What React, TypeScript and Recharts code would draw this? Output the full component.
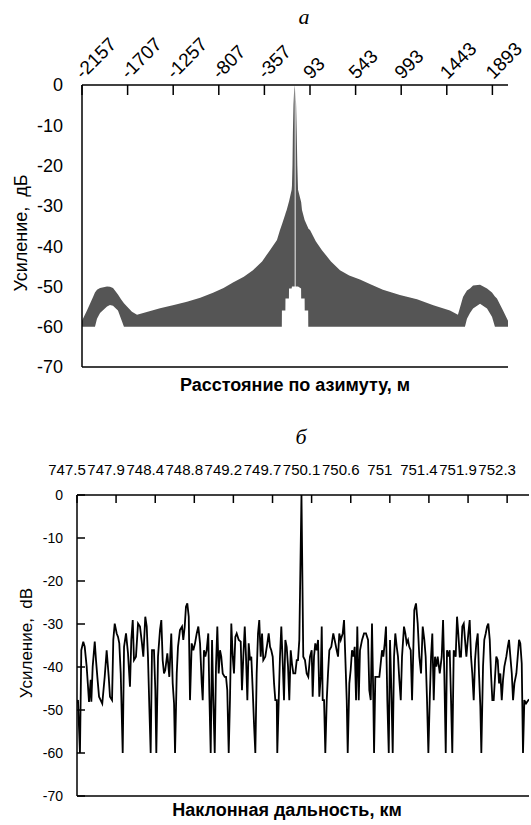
import React from 'react'
import { ComposedChart, Area, Line, XAxis, YAxis, ReferenceLine } from 'recharts'

const SANS = '"Liberation Sans", Arial, sans-serif'
const SERIF = '"Liberation Serif", "Times New Roman", serif'

// panel а: azimuth cut, [distance m, lower edge dB, upper edge dB]
const azimuthLeft: [number, number, number][] = [
  [-2157, -60, -58.5], [-2108, -60, -56], [-2048, -60, -52.6], [-2029, -60, -51.5], [-2009, -58, -50.8],
  [-1979, -56.6, -50.4], [-1910, -55, -50], [-1881, -54.6, -50.1], [-1851, -54.8, -50.4], [-1802, -56, -52],
  [-1772, -58, -53.2], [-1743, -60, -54.2], [-1713, -60, -55], [-1664, -60, -56.3], [-1614, -60, -57],
  [-1500, -60, -56.2], [-1387, -60, -55.4], [-1250, -60, -54.6], [-1121, -60, -53.8], [-990, -60, -52.8],
  [-864, -60, -51.6], [-760, -60, -50.4], [-667, -60, -49], [-560, -60, -47.6], [-470, -60, -46],
  [-380, -60, -43.8], [-302, -60, -41], [-233, -60, -38.5], [-203, -60, -36], [-185, -60, -34.7],
  [-184, -56, -34.6], [-150, -56, -32], [-149, -53, -31.9], [-137, -53, -31], [-115, -53, -29],
  [-114, -50.5, -28.9], [-88, -50.5, -26], [-85, -50, -25], [-80, -50, -20], [-76, -50, -12], [-70, -50, -5],
  [-63, -50, -1], [-58, -50, 0],
]
const azimuthRight: [number, number, number][] = [
  [-49, -50, -1], [-44, -50, -5], [-38, -50, -12], [-32, -50, -20], [-25, -50, -26], [5, -50.5, -29],
  [6, -53, -29.1], [14, -53, -31], [40, -53, -33.5], [41, -56, -33.6], [75, -56, -35.5], [76, -60, -35.6],
  [93, -60, -36], [150, -60, -38.8], [211, -60, -41], [300, -60, -43.8], [389, -60, -46], [480, -60, -47.3],
  [586, -60, -48.3], [700, -60, -49.6], [813, -60, -50.8], [980, -60, -52.1], [1149, -60, -53.2],
  [1310, -60, -54.7], [1474, -60, -56], [1553, -60, -57], [1603, -60, -52.6], [1622, -60, -51.8],
  [1642, -58, -51], [1672, -56.6, -50.5], [1702, -55.5, -49.8], [1771, -54.3, -49.6], [1840, -55.5, -50.5],
  [1889, -57.5, -51.5], [1918, -60, -52.5], [1938, -60, -53], [1998, -60, -56], [2047, -60, -58.5],
]
const azimuthTicks = [-2157, -1707, -1257, -807, -357, 93, 543, 993, 1443, 1893]

const gainTicks = [0, -10, -20, -30, -40, -50, -60, -70]

// panel б: slant range cut, [range km, gain dB]
const rangeProfile: [number, number][] = [
  [747.5, -48.5], [747.511, -47.7], [747.533, -60], [747.548, -36.1], [747.57, -34.1], [747.586, -35.3],
  [747.608, -39.9], [747.623, -44.6], [747.634, -48.1], [747.653, -43], [747.66, -48.1], [747.675, -39.9],
  [747.698, -34.1], [747.712, -38.4], [747.727, -42.3], [747.746, -46.9], [747.782, -48.5], [747.809, -42.3],
  [747.831, -36.1], [747.854, -42.3], [747.868, -46.9], [747.891, -47.7], [747.905, -33.7], [747.921, -29.9],
  [747.943, -32.2], [747.958, -33], [747.972, -34.5], [747.988, -41.5], [748.01, -60], [748.025, -35.3],
  [748.047, -32.2], [748.069, -36.8], [748.091, -44.6], [748.106, -33.7], [748.122, -29.1], [748.136, -38.4],
  [748.158, -37.6], [748.181, -29.9], [748.203, -30.6], [748.225, -34.5], [748.24, -37.6], [748.262, -28.3],
  [748.278, -30.6], [748.292, -37.6], [748.307, -49.2], [748.322, -60], [748.337, -36.1], [748.359, -36.1],
  [748.374, -45.4], [748.385, -60], [748.404, -37.6], [748.426, -31.4], [748.441, -29.1], [748.456, -38.4],
  [748.471, -41.5], [748.485, -40.7], [748.508, -36.8], [748.53, -42.3], [748.552, -32.2], [748.568, -43.8],
  [748.583, -48.5], [748.594, -60], [748.613, -41.5], [748.627, -35.3], [748.649, -31.4], [748.672, -30.6],
  [748.686, -33.7], [748.702, -30.6], [748.716, -26], [748.731, -25.2], [748.747, -28.3], [748.761, -47.7],
  [748.78, -34.5], [748.798, -36.1], [748.817, -34.5], [748.836, -32.2], [748.854, -30.6], [748.873, -34.5],
  [748.892, -43.8], [748.903, -47.7], [748.917, -36.1], [748.932, -37.6], [748.947, -36.1], [748.965, -32.2],
  [748.976, -45.4], [748.992, -60], [749.007, -33.7], [749.021, -47.7], [749.037, -60], [749.051, -39.9],
  [749.066, -30.6], [749.081, -41.5], [749.096, -36.1], [749.11, -37.6], [749.126, -41.5], [749.148, -42.3],
  [749.163, -42.3], [749.177, -45.4], [749.193, -60], [749.207, -47.7], [749.222, -29.9], [749.238, -37.6],
  [749.252, -41.5], [749.267, -33], [749.282, -32.2], [749.305, -33.7], [749.327, -34.1], [749.341, -45.4],
  [749.356, -37.6], [749.372, -30.6], [749.386, -37.6], [749.401, -47.7], [749.416, -34.5], [749.431, -38.4],
  [749.445, -37.6], [749.461, -45.4], [749.475, -53.1], [749.49, -60], [749.505, -41.5], [749.52, -32.2],
  [749.534, -29.1], [749.55, -37.6], [749.565, -32.2], [749.579, -38.4], [749.601, -37.6], [749.624, -34.5],
  [749.639, -32.2], [749.654, -35.3], [749.668, -36.1], [749.684, -37.6], [749.699, -43.8], [749.713, -47.7],
  [749.729, -47.7], [749.735, -60], [749.751, -47.7], [749.765, -37.6], [749.78, -30.6], [749.796, -39.2],
  [749.81, -47.7], [749.825, -33.7], [749.84, -35.3], [749.855, -39.9], [749.869, -47.7], [749.885, -36.1],
  [749.899, -39.2], [749.914, -41.5], [749.936, -41.5], [749.952, -38.4], [749.966, -38.4], [749.981, -33.7],
  [750.005, 0], [750.025, -37.6], [750.044, -38.4], [750.063, -41.5], [750.081, -42.3], [750.1, -37.6],
  [750.119, -36.1], [750.13, -46.9], [750.145, -37.6], [750.159, -34.5], [750.175, -36.1], [750.19, -33.7],
  [750.204, -46.9], [750.22, -42.3], [750.231, -30.6], [750.242, -47.7], [750.257, -47.7], [750.271, -60],
  [750.287, -47.7], [750.301, -41.5], [750.316, -36.1], [750.338, -35.3], [750.36, -32.2], [750.383, -34.5],
  [750.398, -36.1], [750.413, -37.6], [750.427, -32.2], [750.443, -33.7], [750.465, -32.2], [750.48, -29.1],
  [750.494, -37.6], [750.51, -47.7], [750.521, -60], [750.539, -43.8], [750.554, -40.7], [750.569, -36.1],
  [750.584, -37.6], [750.599, -35.3], [750.614, -47.7], [750.628, -30.6], [750.644, -47.7], [750.658, -36.1],
  [750.681, -33.7], [750.703, -32.2], [750.725, -32.2], [750.748, -33.7], [750.762, -45.4], [750.778, -47.7],
  [750.792, -29.9], [750.807, -47.7], [750.815, -60], [750.829, -42.3], [750.851, -42.3], [750.874, -42.3],
  [750.889, -39.2], [750.904, -36.1], [750.918, -37.6], [750.934, -34.5], [750.948, -30.6], [750.963, -47.7],
  [750.979, -60], [750.993, -33.7], [751.008, -45.4], [751.023, -60], [751.038, -37.6], [751.052, -32.2],
  [751.068, -35.3], [751.082, -37.6], [751.097, -43], [751.113, -47.7], [751.127, -37.6], [751.149, -30.6],
  [751.164, -32.2], [751.179, -34.5], [751.194, -33.7], [751.208, -35.3], [751.224, -36.1], [751.239, -47.7],
  [751.264, -26.8], [751.283, -25.2], [751.302, -29.9], [751.32, -37.6], [751.339, -41.5], [751.358, -30.6],
  [751.376, -33.7], [751.391, -37.6], [751.406, -47.7], [751.421, -60], [751.436, -47.7], [751.451, -37.6],
  [751.465, -32.2], [751.481, -47.7], [751.495, -37.6], [751.51, -39.9], [751.525, -37.6], [751.548, -41.5],
  [751.57, -37.6], [751.585, -29.1], [751.599, -41.5], [751.615, -60], [751.629, -36.1], [751.644, -37.6],
  [751.659, -36.1], [751.674, -47.7], [751.688, -60], [751.704, -36.1], [751.726, -37.6], [751.741, -28.3],
  [751.755, -32.2], [751.771, -37.6], [751.785, -37.6], [751.8, -30.6], [751.816, -29.9], [751.83, -33.7],
  [751.845, -37.6], [751.867, -32.2], [751.882, -29.1], [751.897, -37.6], [751.911, -41.5], [751.927, -47.7],
  [751.942, -38.4], [751.956, -34.5], [751.972, -32.2], [751.986, -41.5], [752.001, -49.2], [752.012, -60],
  [752.031, -39.9], [752.045, -33.7], [752.061, -32.2], [752.076, -30.6], [752.09, -29.9], [752.106, -33.7],
  [752.12, -41.5], [752.135, -47.7], [752.15, -47.7], [752.165, -42.3], [752.179, -37.6], [752.195, -38.4],
  [752.21, -43.8], [752.224, -41.5], [752.24, -47.7], [752.254, -43], [752.269, -39.9], [752.291, -37.6],
  [752.307, -35.3], [752.321, -33.7], [752.336, -37.6], [752.352, -41.5], [752.366, -47.7], [752.381, -43.8],
  [752.403, -41.5], [752.418, -37.6], [752.433, -33.7], [752.447, -34.5], [752.463, -39.2], [752.477, -60],
  [752.492, -47.7], [752.511, -48.5], [752.544, -47.5],
]
const rangeTicks = [747.5, 747.936, 748.373, 748.809, 749.245, 749.682, 750.118, 750.555, 750.991, 751.427, 751.864, 752.3]
const rangeTickLabels = ['747.5', '747.9', '748.4', '748.8', '749.2', '749.7', '750.1', '750.6', '751', '751.4', '751.9', '752.3']

const azimuthData = [
  ...azimuthLeft.map(([m, lo, hi]) => ({ m, left: [lo, hi] })),
  ...azimuthRight.map(([m, lo, hi]) => ({ m, right: [lo, hi] })),
]
const rangeData = rangeProfile.map(([km, db]) => ({ km, db }))

const axisLine = { stroke: '#000', strokeWidth: 1.5 }

function AzimuthTick({ x, y, payload }: any) {
  const tx = x + 1
  const ty = y - 5
  return (
    <g>
      <line x1={x} y1={y} x2={x} y2={y + 10} stroke="#000" strokeWidth={1.5} />
      <text x={tx} y={ty} transform={`rotate(-45 ${tx} ${ty})`} fontSize={19} fontFamily={SANS} fill="#000">
        {payload.value}
      </text>
    </g>
  )
}

function RangeTick({ x, y, payload, index }: any) {
  return (
    <g>
      <line x1={x} y1={y} x2={x} y2={y + 8} stroke="#000" strokeWidth={1.5} />
      <text x={x - 10} y={y - 20} textAnchor="middle" fontSize={15} fontFamily={SANS} fill="#000">
        {rangeTickLabels[index] ?? payload.value}
      </text>
    </g>
  )
}

function GainTick({ x, y, payload }: any) {
  return (
    <g>
      <line x1={x} y1={y} x2={x + 8} y2={y} stroke="#000" strokeWidth={1.5} />
      <text x={x - 14} y={y + 5} textAnchor="end" fontSize={14} fontFamily={SANS} fill="#000">
        {payload.value}
      </text>
    </g>
  )
}

function Caption({ x, y, rotate, style, children }: any) {
  return (
    <div
      style={{
        position: 'absolute',
        left: x,
        top: y,
        transform: `translate(-50%, -50%)${rotate ? ' rotate(-90deg)' : ''}`,
        whiteSpace: 'pre',
        lineHeight: 1,
        color: '#000',
        fontFamily: SANS,
        ...style,
      }}
    >
      {children}
    </div>
  )
}

export default function App() {
  return (
    <div style={{ position: 'absolute', left: 0, top: 0, width: 531, height: 825, background: '#fff' }}>
      <Caption x={304} y={17} style={{ fontFamily: SERIF, fontStyle: 'italic', fontSize: 22 }}>а</Caption>
      <div style={{ position: 'absolute', left: 0, top: 0 }}>
        <ComposedChart width={531} height={400} data={azimuthData} margin={{ top: 25, left: 22, right: 23, bottom: 33 }}>
          <XAxis
            dataKey="m"
            type="number"
            orientation="top"
            domain={[-2157, 2047]}
            ticks={azimuthTicks}
            interval={0}
            allowDataOverflow
            height={60}
            tickSize={0}
            tickMargin={0}
            tickLine={false}
            axisLine={axisLine}
            tick={(p: any) => <AzimuthTick {...p} />}
          />
          <YAxis
            type="number"
            domain={[-70, 0]}
            ticks={gainTicks}
            interval={0}
            allowDataOverflow
            width={60}
            tickSize={0}
            tickMargin={19}
            tickLine={false}
            axisLine={axisLine}
            tick={{ fontSize: 18, fill: '#000', fontFamily: SANS }}
          />
          <ReferenceLine y={-70} stroke="#000" strokeWidth={1.5} />
          <Area dataKey="left" type="linear" stroke="none" fill="#555" fillOpacity={1} dot={false} activeDot={false} isAnimationActive={false} />
          <Area dataKey="right" type="linear" stroke="none" fill="#555" fillOpacity={1} dot={false} activeDot={false} isAnimationActive={false} />
        </ComposedChart>
      </div>
      <Caption x={21} y={233} rotate style={{ fontSize: 18 }}>Усиление,  дБ</Caption>
      <Caption x={295} y={385} style={{ fontSize: 18, fontWeight: 'bold' }}>Расстояние по азимуту, м</Caption>

      <Caption x={301} y={437} style={{ fontFamily: SERIF, fontStyle: 'italic', fontSize: 22 }}>б</Caption>
      <div style={{ position: 'absolute', left: 0, top: 400 }}>
        <ComposedChart width={531} height={425} data={rangeData} margin={{ top: 55, left: 17, right: 2, bottom: 29 }}>
          <XAxis
            dataKey="km"
            type="number"
            orientation="top"
            domain={[747.5, 752.544]}
            ticks={rangeTicks}
            interval={0}
            allowDataOverflow
            height={40}
            tickSize={0}
            tickMargin={0}
            tickLine={false}
            axisLine={axisLine}
            tick={(p: any) => <RangeTick {...p} />}
          />
          <YAxis
            type="number"
            domain={[-70, 0]}
            ticks={gainTicks}
            interval={0}
            allowDataOverflow
            width={60}
            tickSize={0}
            tickMargin={0}
            tickLine={false}
            axisLine={axisLine}
            tick={(p: any) => <GainTick {...p} />}
          />
          <ReferenceLine y={-70} stroke="#000" strokeWidth={1.5} />
          <Line dataKey="db" type="linear" stroke="#000" strokeWidth={1.8} dot={false} activeDot={false} isAnimationActive={false} />
        </ComposedChart>
      </div>
      <Caption x={26} y={643} rotate style={{ fontSize: 17 }}>Усиление,  dB</Caption>
      <Caption x={287} y={810} style={{ fontSize: 18, fontWeight: 'bold' }}>Наклонная дальность, км</Caption>
    </div>
  )
}
